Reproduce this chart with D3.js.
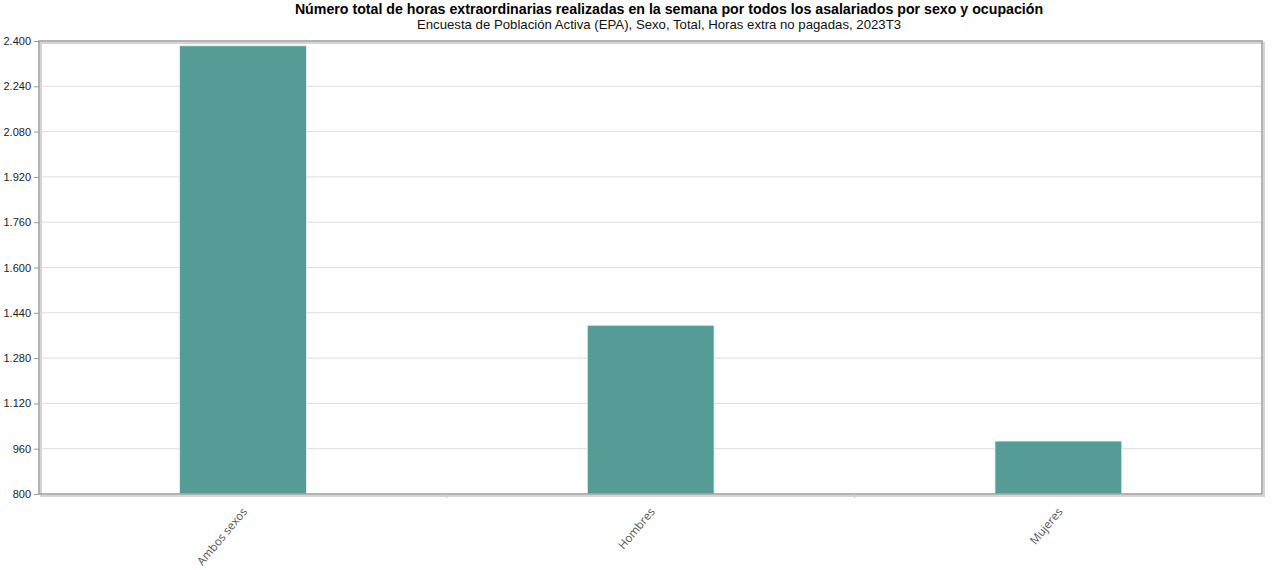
<!DOCTYPE html>
<html>
<head>
<meta charset="utf-8">
<script src="https://cdn.jsdelivr.net/npm/d3@7"></script>
<style>
  body { margin: 0; background: #fff; }
  svg { display: block; }
</style>
</head>
<body>
<div id="chart"></div>
<script>
const categories = ["Ambos sexos", "Hombres", "Mujeres"];
const values = [2383, 1396, 987];
const yTicks = [800, 960, 1120, 1280, 1440, 1600, 1760, 1920, 2080, 2240, 2400];

const title = "Número total de horas extraordinarias realizadas en la semana por todos los asalariados por sexo y ocupación";
const subtitle = "Encuesta de Población Activa (EPA), Sexo, Total, Horas extra no pagadas, 2023T3";

const width = 1280, height = 570;
const margin = {top: 41, right: 18, bottom: 76, left: 39};

const svg = d3.select("#chart").append("svg")
	.attr("width", width)
	.attr("height", height);

const x = d3.scaleBand()
	.domain(categories)
	.range([margin.left, width - margin.right])
	.padding(0);

const y = d3.scaleLinear()
	.domain([800, 2400])
	.range([height - margin.bottom, margin.top]);

const fmt = d => d3.format(",")(d).replace(/,/g, ".");

// titles
svg.append("text")
	.attr("x", 669).attr("y", 14)
	.attr("text-anchor", "middle")
	.attr("font-family", "Liberation Sans, Arial, sans-serif")
	.attr("font-size", 14.2).attr("font-weight", "bold")
	.attr("fill", "#000")
	.text(title);

svg.append("text")
	.attr("x", 659).attr("y", 29)
	.attr("text-anchor", "middle")
	.attr("font-family", "Liberation Sans, Arial, sans-serif")
	.attr("font-size", 13.2)
	.attr("fill", "#111")
	.text(subtitle);

const plotW = width - margin.right - margin.left;
const plotH = height - margin.bottom - margin.top;

// frame shadow
svg.append("rect")
	.attr("x", margin.left + 2).attr("y", margin.top + 2)
	.attr("width", plotW).attr("height", plotH)
	.attr("fill", "none").attr("stroke", "#d4d4d4").attr("stroke-width", 2);

// gridlines
svg.append("g")
	.selectAll("line")
	.data(yTicks.slice(1, -1)).enter()
	.append("line")
	.attr("x1", margin.left).attr("x2", width - margin.right)
	.attr("y1", d => y(d)).attr("y2", d => y(d))
	.attr("stroke", "#dcdcdc").attr("stroke-width", 1);

// bars
svg.append("g")
	.selectAll("rect")
	.data(categories).enter()
	.append("rect")
	.attr("x", d => x(d) + x.bandwidth() * 0.345)
	.attr("width", x.bandwidth() * 0.311)
	.attr("y", (d, i) => y(values[i]))
	.attr("height", (d, i) => y(800) - y(values[i]))
	.attr("fill", "#559b96")
	.attr("stroke", "#e4f2f0").attr("stroke-width", 0.8);

// frame
svg.append("rect")
	.attr("x", margin.left).attr("y", margin.top)
	.attr("width", plotW).attr("height", plotH)
	.attr("fill", "none").attr("stroke", "#9a9a9a").attr("stroke-width", 1.5);

// y axis
const yAxis = svg.append("g")
	.attr("transform", `translate(${margin.left},0)`)
	.call(d3.axisLeft(y).tickValues(yTicks).tickFormat(fmt).tickSize(5).tickPadding(3));
yAxis.select(".domain").remove();
yAxis.selectAll(".tick line").attr("stroke", "#999");
yAxis.selectAll(".tick text")
	.attr("font-family", "Liberation Sans, Arial, sans-serif")
	.attr("font-size", 11).attr("fill", "#222");

// x separator ticks
svg.append("g")
	.selectAll("line")
	.data(categories.slice(1)).enter()
	.append("line")
	.attr("x1", d => x(d)).attr("x2", d => x(d))
	.attr("y1", y(800)).attr("y2", y(800) + 4)
	.attr("stroke", "#ccc");

// x labels
svg.append("g")
	.selectAll("text")
	.data(categories).enter()
	.append("text")
	.attr("transform", d => `translate(${x(d) + x.bandwidth() / 2 + 5},${y(800) + 18}) rotate(-50)`)
	.attr("text-anchor", "end")
	.attr("font-family", "Open Sans, sans-serif")
	.attr("font-size", 11.5).attr("fill", "#555")
	.text(d => d);
</script>
</body>
</html>
